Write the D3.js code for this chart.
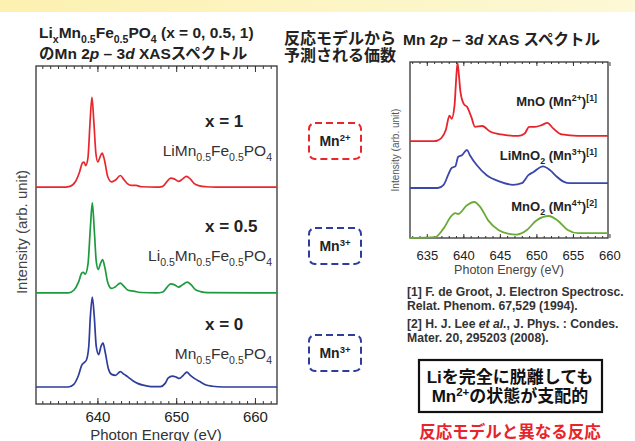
<!DOCTYPE html>
<html lang="ja">
  <head>
    <meta charset="utf-8">
    <title>Mn 2p - 3d XAS</title>
    <script src="https://cdn.jsdelivr.net/npm/d3@7"></script>
    <style>
      body { margin: 0; background: #fff; }
      svg text { font-family: "Liberation Sans", Arial, "Noto Sans CJK JP", sans-serif; }
    </style>
  </head>

  <body>
    <div id='chart'></div>

    <script type='text/javascript'>
      // ---- data ----
      // left panel: LixMn0.5Fe0.5PO4, [energy eV, intensity] (main peak = 1)
      let specX1 = [[632.2,0],[635.5,0],[636.5,0.01],[637.2,0.06],[637.7,0.16],[638.1,0.27],[638.3,0.28],[638.5,0.24],
        [638.8,0.33],[639.05,0.7],[639.3,1.0],[639.55,0.72],[639.8,0.38],[640.05,0.28],[640.35,0.34],[640.6,0.38],
        [640.9,0.3],[641.3,0.12],[641.8,0.06],[642.3,0.08],[642.9,0.13],[643.4,0.08],[643.8,0.04],[644.3,0.02],
        [644.9,0.02],[645.6,0.005],[647.5,0],[648.3,0.01],[648.8,0.06],[649.3,0.10],[649.8,0.09],[650.3,0.065],
        [650.8,0.09],[651.3,0.12],[651.8,0.09],[652.3,0.04],[653.0,0.015],[653.8,0.005],[655,0],[662.8,0]];
      let specX05 = [[632.2,0],[636.3,0],[637.0,0.03],[637.6,0.12],[638.0,0.22],[638.2,0.23],[638.45,0.21],[638.8,0.32],
        [639.1,0.72],[639.35,1.0],[639.6,0.7],[639.85,0.35],[640.1,0.26],[640.4,0.33],[640.65,0.37],[640.95,0.28],
        [641.3,0.12],[641.8,0.05],[642.3,0.07],[642.9,0.11],[643.4,0.07],[643.9,0.03],[644.6,0.02],[645.5,0.005],
        [647.5,0],[648.3,0.01],[648.8,0.06],[649.3,0.10],[649.8,0.09],[650.3,0.065],[650.8,0.09],[651.4,0.12],
        [651.9,0.09],[652.4,0.04],[653.1,0.015],[654,0.003],[662.8,0]];
      let specX0 = [[632.2,0],[636.3,0],[637.0,0.03],[637.6,0.13],[638.0,0.24],[638.3,0.27],[638.6,0.30],[638.9,0.45],
        [639.1,0.78],[639.35,1.0],[639.6,0.78],[639.85,0.45],[640.15,0.36],[640.45,0.45],[640.7,0.49],[641.0,0.38],
        [641.4,0.2],[641.8,0.14],[642.3,0.13],[642.9,0.17],[643.4,0.14],[643.9,0.11],[644.5,0.07],[645.1,0.04],
        [645.8,0.02],[646.8,0.005],[648.0,0.005],[648.6,0.04],[649.0,0.10],[649.5,0.12],[650.0,0.11],[650.4,0.095],
        [650.9,0.13],[651.35,0.165],[651.8,0.13],[652.4,0.09],[653.0,0.06],[653.7,0.025],[654.6,0.008],[656,0],[662.8,0]];
      let leftOffsets = [2.22, 1.045, 0];
      let leftX = ['x = 1', 'x = 0.5', 'x = 0'];

      // right panel: reference compounds
      let specMnO = [[632.7,0],[636.0,0],[636.5,0.01],[637.0,0.04],[637.6,0.14],[638.1,0.32],[638.4,0.28],[638.8,0.45],
        [639.0,0.75],[639.2,0.98],[639.4,0.82],[639.6,0.62],[640.1,0.46],[640.5,0.43],[641.1,0.30],[641.6,0.18],
        [642.6,0.19],[643.6,0.125],[645.2,0.084],[647.5,0.066],[648.4,0.096],[649.0,0.18],[649.8,0.18],[650.7,0.20],
        [651.5,0.23],[652.3,0.16],[653.5,0.084],[655.7,0.066],[659.8,0.066]];
      let specLiMnO2 = [[632.7,0],[636.5,0],[637.3,0.04],[638.0,0.18],[638.4,0.25],[638.9,0.27],[639.3,0.39],[639.8,0.41],
        [640.5,0.475],[640.9,0.41],[641.8,0.29],[643.2,0.16],[645.0,0.08],[646.8,0.04],[648.0,0.06],[648.9,0.16],
        [649.6,0.20],[650.9,0.27],[651.9,0.22],[652.8,0.14],[653.7,0.08],[654.6,0.06],[659.8,0.06]];
      let specMnO2 = [[632.7,0],[636.1,0.01],[637.3,0.12],[638.4,0.28],[638.9,0.31],[639.3,0.30],[640.5,0.41],[641.5,0.45],
        [642.3,0.39],[643.4,0.22],[644.8,0.10],[646.1,0.055],[647.3,0.043],[648.7,0.10],[650.0,0.22],[651.7,0.275],
        [652.9,0.22],[654.3,0.10],[655.7,0.06],[659.8,0.06]];
      let rightOffsets = [1.21, 0.625, 0];

      let leftTicks = [640, 650, 660];
      let rightTicks = [635, 640, 645, 650, 655, 660];

      let leftColors = ['#e8272d', '#1e9a3e', '#2e3d9b'];
      let rightColors = ['#e8232b', '#3b48a8', '#6aaa35'];

      // ---- canvas ----
      let svg = d3.select('#chart').append('svg')
        .attr('width', 635)
        .attr('height', 441)

      let grad = svg.append('defs').append('linearGradient').attr('id', 'band')
      grad.append('stop').attr('offset', '0%').attr('stop-color', '#fcf1b0')
      grad.append('stop').attr('offset', '100%').attr('stop-color', '#fdf8d6')
      svg.append('rect').attr('x', 0).attr('y', 0).attr('width', 635).attr('height', 12).attr('fill', 'url(#band)')

      // rich text helper: parts = [[text, style]] style: '', 'sub', 'sup', 'i'
      function rich(t, parts, fs) {
        let shift = 0;
        parts.forEach(p => {
          let target = p[1] === 'sub' ? fs * 0.3 : (p[1] === 'sup' ? -fs * 0.38 : 0);
          let ts = t.append('tspan').text(p[0]);
          if (target !== shift) ts.attr('dy', target - shift);
          shift = target;
          if (p[1] === 'sub' || p[1] === 'sup') ts.attr('font-size', fs * 0.68);
          if (p[1] === 'i') ts.attr('font-style', 'italic');
        });
        return t;
      }

      function label(x, y, parts, fs, opts) {
        opts = opts || {};
        let t = svg.append('text')
          .attr('x', x).attr('y', y)
          .attr('font-size', fs)
          .attr('font-weight', opts.bold ? 'bold' : 'normal')
          .attr('fill', opts.fill || '#222')
          .attr('text-anchor', opts.anchor || 'start')
        return rich(t, parts, fs);
      }

      // ---- left panel ----
      let L = {left: 36, right: 277, top: 66, bottom: 404};
      let xL = d3.scaleLinear().domain([632.2, 662.8]).range([L.left, L.right]);
      let yL = d3.scaleLinear().domain([-0.189, 3.567]).range([L.bottom, L.top]);

      function frame(b, x, ticks, minor, majLen, minLen, fs, pad) {
        let g = svg.append('g').attr('transform', 'translate(0,' + b.bottom + ')');
        g.call(d3.axisBottom(x).tickValues(minor).tickSize(-minLen).tickFormat(''));
        let maj = svg.append('g').attr('transform', 'translate(0,' + b.bottom + ')');
        maj.call(d3.axisBottom(x).tickValues(ticks).tickSize(-majLen).tickPadding(pad).tickFormat(d3.format('d')));
        maj.selectAll('text').attr('font-size', fs).attr('fill', '#222');
        let gt = svg.append('g').attr('transform', 'translate(0,' + b.top + ')');
        gt.call(d3.axisTop(x).tickValues(minor).tickSize(-minLen).tickFormat(''));
        let gt2 = svg.append('g').attr('transform', 'translate(0,' + b.top + ')');
        gt2.call(d3.axisTop(x).tickValues(ticks).tickSize(-majLen).tickFormat(''));
        svg.selectAll('.domain').remove();
        svg.selectAll('.tick line').attr('stroke', '#333');
        svg.append('rect')
          .attr('x', b.left).attr('y', b.top)
          .attr('width', b.right - b.left).attr('height', b.bottom - b.top)
          .attr('fill', 'none').attr('stroke', '#333').attr('stroke-width', 1.3);
      }

      frame(L, xL, leftTicks, d3.range(633, 663, 1), 6, 3, 15, 7);

      let lineL = d3.line().x(d => xL(d[0])).y(d => yL(d[1] + d[2])).curve(d3.curveMonotoneX);
      [specX1, specX05, specX0].forEach((s, i) => {
        svg.append('path')
          .attr('d', lineL(s.map(d => [d[0], d[1], leftOffsets[i]])))
          .attr('fill', 'none')
          .attr('stroke', leftColors[i])
          .attr('stroke-width', 1.7)
      });

      label(156, 439.5, [['Photon Energy (eV)', '']], 15, {anchor: 'middle', fill: '#333'});
      label(0, 0, [['Intensity (arb. unit)', '']], 15, {anchor: 'middle', fill: '#444'})
        .attr('transform', 'translate(27,232) rotate(-90)');

      let compLabels = [
        [['LiMn', ''], ['0.5', 'sub'], ['Fe', ''], ['0.5', 'sub'], ['PO', ''], ['4', 'sub']],
        [['Li', ''], ['0.5', 'sub'], ['Mn', ''], ['0.5', 'sub'], ['Fe', ''], ['0.5', 'sub'], ['PO', ''], ['4', 'sub']],
        [['Mn', ''], ['0.5', 'sub'], ['Fe', ''], ['0.5', 'sub'], ['PO', ''], ['4', 'sub']]
      ];
      let labelY = [121, 226, 324];
      leftX.forEach((t, i) => {
        label(205, labelY[i] + 6, [[t, '']], 17, {bold: true, fill: '#222'});
        label(272, labelY[i] + 35, compLabels[i], 15.5, {anchor: 'end', fill: '#333'});
      });

      // titles
      label(39, 38, [['Li', ''], ['x', 'sub'], ['Mn', ''], ['0.5', 'sub'], ['Fe', ''], ['0.5', 'sub'], ['PO', ''], ['4', 'sub'], [' (x = 0, 0.5, 1)', '']], 15.5, {bold: true});
      label(39, 59, [['のMn 2', ''], ['p', 'i'], [' – 3', ''], ['d', 'i'], [' XASスペクトル', '']], 15.5, {bold: true});

      label(340, 44, [['反応モデルから', '']], 16, {bold: true, anchor: 'middle'});
      label(340, 61, [['予測される価数', '']], 16, {bold: true, anchor: 'middle'});

      // dashed valence boxes
      let boxVal = [['2+', '#e8272d'], ['3+', '#2e3d9b'], ['3+', '#2e3d9b']];
      let boxY = [123, 228, 335];
      boxVal.forEach((b, i) => {
        svg.append('rect')
          .attr('x', 309).attr('y', boxY[i]).attr('width', 52).attr('height', 36)
          .attr('rx', 6).attr('fill', 'none')
          .attr('stroke', b[1]).attr('stroke-width', 2).attr('stroke-dasharray', '7,4');
        label(335, boxY[i] + 23, [['Mn', ''], [b[0], 'sup']], 14, {bold: true, anchor: 'middle'});
      });

      // ---- right panel ----
      let R = {left: 410, right: 608, top: 62, bottom: 238};
      let xR = d3.scaleLinear().domain([632.7, 659.8]).range([R.left, R.right]);
      let yR = d3.scaleLinear().domain([0, 2.2]).range([R.bottom, R.top]);

      frame(R, xR, rightTicks, d3.range(633, 660, 1), 4, 2, 13, 13);

      let lineR = d3.line().x(d => xR(d[0])).y(d => yR(d[1] + d[2])).curve(d3.curveMonotoneX);
      [specMnO, specLiMnO2, specMnO2].forEach((s, i) => {
        svg.append('path')
          .attr('d', lineR(s.map(d => [d[0], d[1], rightOffsets[i]])))
          .attr('fill', 'none')
          .attr('stroke', rightColors[i])
          .attr('stroke-width', 1.8)
      });

      label(509, 274, [['Photon Energy (eV)', '']], 12.5, {anchor: 'middle', fill: '#444'});
      label(0, 0, [['Intensity (arb. unit)', '']], 10, {anchor: 'middle', fill: '#555'})
        .attr('transform', 'translate(399,150) rotate(-90)');

      label(403, 45, [['Mn 2', ''], ['p', 'i'], [' – 3', ''], ['d', 'i'], [' XAS スペクトル', '']], 15.5, {bold: true});

      let refLabels = [
        [['MnO (Mn', ''], ['2+', 'sup'], [')', ''], ['[1]', 'sup']],
        [['LiMnO', ''], ['2', 'sub'], [' (Mn', ''], ['3+', 'sup'], [')', ''], ['[1]', 'sup']],
        [['MnO', ''], ['2', 'sub'], [' (Mn', ''], ['4+', 'sup'], [')', ''], ['[2]', 'sup']]
      ];
      let refY = [106, 160, 211];
      refLabels.forEach((p, i) => label(597, refY[i], p, 13, {bold: true, anchor: 'end'}));

      // references
      let refFs = 12.2;
      label(407, 296, [['[1] F. de Groot, J. Electron Spectrosc.', '']], refFs, {bold: true, fill: '#333'});
      label(407, 310, [['Relat. Phenom. 67,529 (1994).', '']], refFs, {bold: true, fill: '#333'});
      label(407, 328, [['[2] H. J. Lee ', ''], ['et al.', 'i'], [', J. Phys. : Condes.', '']], refFs, {bold: true, fill: '#333'});
      label(407, 342, [['Mater. 20, 295203 (2008).', '']], refFs, {bold: true, fill: '#333'});

      // conclusion box
      svg.append('rect')
        .attr('x', 419).attr('y', 360).attr('width', 183).attr('height', 52)
        .attr('fill', '#fff').attr('stroke', '#111').attr('stroke-width', 2.2);
      label(510, 383, [['Liを完全に脱離しても', '']], 17, {bold: true, anchor: 'middle', fill: '#111'});
      label(510, 402, [['Mn', ''], ['2+', 'sup'], ['の状態が支配的', '']], 17, {bold: true, anchor: 'middle', fill: '#111'});

      label(510, 438, [['反応モデルと異なる反応', '']], 16.5, {bold: true, anchor: 'middle', fill: '#e8242b'});
    </script>
  </body>
</html>
